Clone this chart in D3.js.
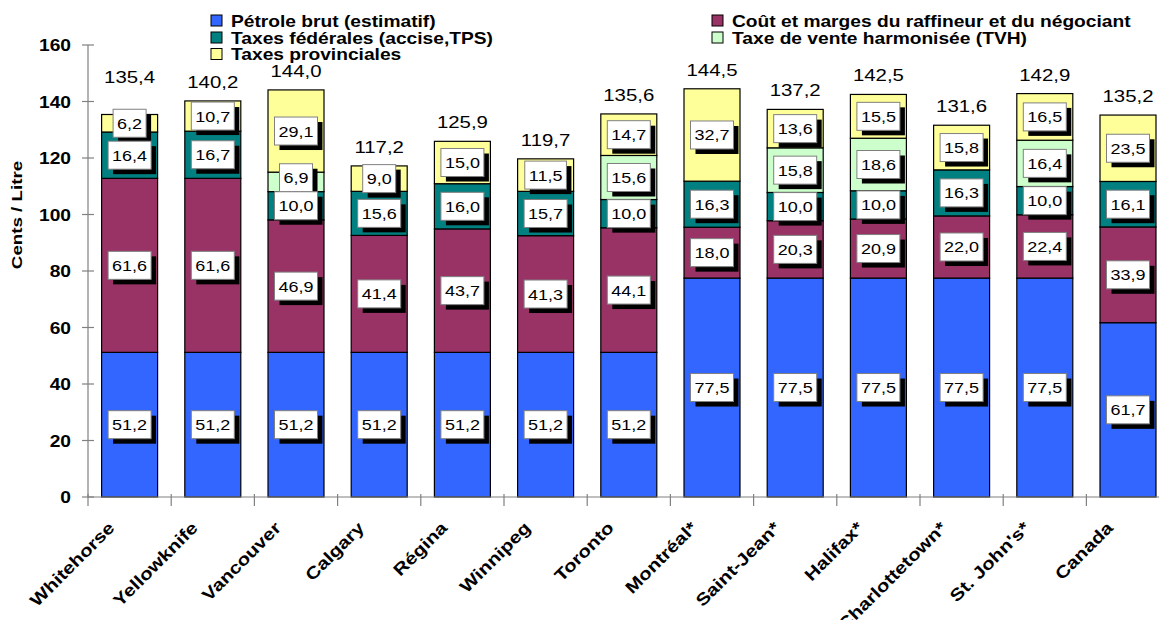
<!DOCTYPE html>
<html lang="fr">
<head>
<meta charset="UTF-8">
<title>Prix de l'essence</title>
<script src="https://cdn.jsdelivr.net/npm/d3@7"></script>
<style>
    body { margin: 0; background: #fff; }
    text { font-family: Arial, "Liberation Sans", sans-serif; }
</style>
</head>
<body>
<svg id="chart" width="1159" height="620"></svg>
<script>
// data
const villes = ['Whitehorse', 'Yellowknife', 'Vancouver', 'Calgary', 'Régina', 'Winnipeg', 'Toronto',
                'Montréal*', 'Saint-Jean*', 'Halifax*', 'Charlottetown*', "St. John's*", 'Canada']
const petrole      = [51.2, 51.2, 51.2, 51.2, 51.2, 51.2, 51.2, 77.5, 77.5, 77.5, 77.5, 77.5, 61.7]
const raffineur    = [61.6, 61.6, 46.9, 41.4, 43.7, 41.3, 44.1, 18.0, 20.3, 20.9, 22.0, 22.4, 33.9]
const federales    = [16.4, 16.7, 10.0, 15.6, 16.0, 15.7, 10.0, 16.3, 10.0, 10.0, 16.3, 10.0, 16.1]
const tvh          = [0, 0, 6.9, 0, 0, 0, 15.6, 0, 15.8, 18.6, 0, 16.4, 0]
const provinciales = [6.2, 10.7, 29.1, 9.0, 15.0, 11.5, 14.7, 32.7, 13.6, 15.5, 15.8, 16.5, 23.5]
const totaux       = [135.4, 140.2, 144.0, 117.2, 125.9, 119.7, 135.6, 144.5, 137.2, 142.5, 131.6, 142.9, 135.2]
const yTicks = [0, 20, 40, 60, 80, 100, 120, 140, 160]

const series = [
    { nom: 'Pétrole brut (estimatif)', valeurs: petrole, couleur: '#3366FF' },
    { nom: 'Coût et marges du raffineur et du négociant', valeurs: raffineur, couleur: '#993366' },
    { nom: 'Taxes fédérales (accise,TPS)', valeurs: federales, couleur: '#008080' },
    { nom: 'Taxe de vente harmonisée (TVH)', valeurs: tvh, couleur: '#CCFFCC' },
    { nom: 'Taxes provinciales', valeurs: provinciales, couleur: '#FFFF99' }
]

const SX = 1.2   // the reference fonts are drawn wide
const virgule = v => d3.format('.1f')(v).replace('.', ',')

let svg = d3.select('#chart')
svg.append('rect').attr('width', 1159).attr('height', 620).attr('fill', '#fff')

let left = 88, step = 83.2
let xScale = d3.scaleBand()
    .domain(villes)
    .range([left, left + step * villes.length])
    .paddingInner(0.327)
    .paddingOuter(0.1635)
let yScale = d3.scaleLinear().domain([0, 160]).range([497, 45])

function wide(g, x, y, str, size, weight, anchor, sx) {
    return g.append('text')
        .attr('transform', `translate(${x},${y}) scale(${sx || SX},1)`)
        .attr('font-size', size)
        .attr('font-weight', weight)
        .attr('text-anchor', anchor)
        .text(str)
}

// stacked bars
let stack = d3.stack().keys(d3.range(series.length)).value((d, k) => series[k].valeurs[d])
let stacked = stack(d3.range(villes.length))

let bars = svg.append('g')
stacked.forEach((layer, k) => {
    bars.selectAll(null)
        .data(layer.map((s, i) => ({ s, i })).filter(d => d.s[1] > d.s[0]))
        .enter()
        .append('rect')
        .attr('x', d => xScale(villes[d.i]))
        .attr('y', d => yScale(d.s[1]))
        .attr('width', xScale.bandwidth())
        .attr('height', d => yScale(d.s[0]) - yScale(d.s[1]))
        .attr('fill', series[k].couleur)
        .attr('stroke', '#000')
        .attr('stroke-width', 1.2)
})

// axes
let yAxis = svg.append('g')
yAxis.append('line').attr('x1', left).attr('x2', left).attr('y1', yScale(160)).attr('y2', yScale(0))
    .attr('stroke', '#808080').attr('stroke-width', 1.2)
yTicks.forEach(t => {
    yAxis.append('line').attr('x1', left - 6).attr('x2', left + 6)
        .attr('y1', yScale(t)).attr('y2', yScale(t))
        .attr('stroke', '#808080').attr('stroke-width', 1.2)
    wide(yAxis, 71, yScale(t) + 6, t, 16, 'bold', 'end')
})

let xAxis = svg.append('g')
xAxis.append('line').attr('x1', left).attr('x2', 1159).attr('y1', yScale(0)).attr('y2', yScale(0))
    .attr('stroke', '#808080').attr('stroke-width', 1.2)
villes.forEach(v => {
    let tx = xScale(v) - xScale.step() * xScale.paddingInner() / 2
    xAxis.append('line').attr('x1', tx).attr('x2', tx)
        .attr('y1', yScale(0) - 3).attr('y2', yScale(0) + 9)
        .attr('stroke', '#808080').attr('stroke-width', 1.2)
    let cx = xScale(v) + xScale.bandwidth() / 2
    xAxis.append('text')
        .attr('transform', `translate(${cx - 14},${yScale(0) + 32}) rotate(-45) scale(1.2,1)`)
        .attr('font-size', 17)
        .attr('font-weight', 'bold')
        .attr('text-anchor', 'end')
        .text(v)
})

svg.append('text')
    .attr('transform', `translate(22,215) rotate(-90) scale(1.25,1)`)
    .attr('font-size', 15)
    .attr('font-weight', 'bold')
    .attr('text-anchor', 'middle')
    .text('Cents / Litre')

// data labels: boxes with drop shadow, pushed up when they collide
let boxH = 28
let boxes = []
villes.forEach((v, i) => {
    let prevTop = null
    stacked.forEach((layer, k) => {
        let s = layer[i]
        if (s[1] <= s[0]) return
        let c = yScale((s[0] + s[1]) / 2)
        if (prevTop !== null && c + boxH / 2 > prevTop) c = prevTop - boxH / 2
        prevTop = c - boxH / 2
        boxes.push({ i, k, c, txt: virgule(s[1] - s[0]) })
    })
})

let labels = svg.append('g')
boxes.slice().sort((a, b) => b.k - a.k).forEach(b => {
    let cx = xScale(villes[b.i]) + xScale.bandwidth() / 2
    let g = labels.append('g')
    let t = wide(g, cx, b.c + 5.5, b.txt, 15, 'normal', 'middle')
    let w = t.node().getComputedTextLength() * SX + 8
    g.insert('rect', 'text').attr('x', cx - w / 2 + 5).attr('y', b.c - boxH / 2 + 5)
        .attr('width', w).attr('height', boxH).attr('fill', '#000')
    g.insert('rect', 'text').attr('x', cx - w / 2).attr('y', b.c - boxH / 2)
        .attr('width', w).attr('height', boxH).attr('fill', '#fff')
        .attr('stroke', '#808080').attr('stroke-width', 1)
})

// totals above each bar, lifted over a label box that sticks out of the bar
let tot = svg.append('g')
villes.forEach((v, i) => {
    let cx = xScale(v) + xScale.bandwidth() / 2
    let top = yScale(d3.sum(series, s => s.valeurs[i]))
    let labTop = d3.min(boxes.filter(b => b.i === i), b => b.c - boxH / 2)
    let base = (top - labTop > 3) ? labTop - 26 : top - 13
    wide(tot, cx, base, virgule(totaux[i]), 17, 'normal', 'middle')
})

// legend
let legend = svg.append('g')
let legPos = [[211, 15], [712, 15], [211, 32], [712, 32], [211, 48.5]]
series.forEach((s, k) => {
    let p = legPos[k]
    legend.append('rect').attr('x', p[0]).attr('y', p[1]).attr('width', 11).attr('height', 11)
        .attr('fill', s.couleur).attr('stroke', '#000').attr('stroke-width', 1)
    wide(legend, p[0] + 20, p[1] + 11.5, s.nom, 16, 'bold', 'start')
})
</script>
</body>
</html>
